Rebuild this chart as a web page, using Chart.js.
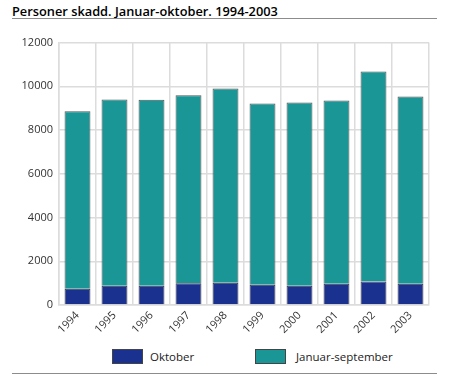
<!DOCTYPE html>
<html>
<head>
<meta charset="utf-8">
<script src="https://cdn.jsdelivr.net/npm/chart.js@4/dist/chart.umd.min.js"></script>
<style>
  body { margin: 0; background: #fff; font-family: "Open Sans", "DejaVu Sans", sans-serif; }
  #wrap { position: relative; width: 449px; height: 376px; }
  .title { position: absolute; left: 12px; top: 2px; font-size: 12.8px; font-weight: 600; color: #000; }
  .rule { position: absolute; left: 12px; width: 425px; height: 1px; background: #8c8c8c; }
  #chartbox { position: absolute; left: 0; top: 30px; width: 449px; height: 312px; }
  .legend { position: absolute; top: 349px; font-size: 11.5px; color: #222; }
  .legend span.box { position: absolute; top: 0; width: 31px; height: 15px; border: 1px solid #444; box-sizing: border-box; }
  .legend span.lbl { position: absolute; top: 0; white-space: nowrap; line-height: 15px; }
</style>
</head>
<body>
<div id="wrap">
  <div class="title">Personer skadd. Januar-oktober. 1994-2003</div>
  <div class="rule" style="top:18px"></div>
  <div id="chartbox"><canvas id="chart"></canvas></div>
  <div class="legend" style="left:112px">
    <span class="box" style="left:0;background:#1a318f"></span>
    <span class="lbl" style="left:38px">Oktober</span>
  </div>
  <div class="legend" style="left:255px">
    <span class="box" style="left:0;background:#1a9696"></span>
    <span class="lbl" style="left:41px">Januar-september</span>
  </div>
  <div class="rule" style="top:373px"></div>
</div>
<script>
const years = ["1994", "1995", "1996", "1997", "1998", "1999", "2000", "2001", "2002", "2003"];
const oktober = [740, 880, 880, 990, 1020, 930, 880, 970, 1080, 970];
const januarSeptember = [8120, 8520, 8510, 8600, 8880, 8290, 8380, 8380, 9600, 8570];
const yTicks = [0, 2000, 4000, 6000, 8000, 10000, 12000];

const tickFont = { family: '"Open Sans", "DejaVu Sans", sans-serif', size: 11 };

new Chart(document.getElementById("chart").getContext("2d"), {
  type: "bar",
  data: {
    labels: years,
    datasets: [
      {
        label: "Oktober",
        data: oktober,
        backgroundColor: "#1a318f",
        borderColor: "#3a3a4a",
        borderWidth: 1,
        categoryPercentage: 1,
        barPercentage: 0.7,
      },
      {
        label: "Januar-september",
        data: januarSeptember,
        backgroundColor: "#1a9696",
        borderColor: "#555",
        borderWidth: 1,
        categoryPercentage: 1,
        barPercentage: 0.7,
      },
    ],
  },
  options: {
    responsive: true,
    maintainAspectRatio: false,
    animation: false,
    layout: { padding: { top: 12, right: 20, left: 0, bottom: 0 } },
    plugins: {
      legend: { display: false },
      tooltip: { enabled: false },
    },
    scales: {
      x: {
        stacked: true,
        offset: true,
        grid: { color: "#dcdcdc", lineWidth: 1.5, drawTicks: false, offset: true },
        border: { color: "#dcdcdc", width: 1.5 },
        ticks: {
          color: "#333",
          font: tickFont,
          maxRotation: 45,
          minRotation: 45,
          padding: 4,
        },
        afterFit: (scale) => { scale.height = 37; },
      },
      y: {
        stacked: true,
        min: 0,
        max: 12000,
        afterBuildTicks: (scale) => { scale.ticks = yTicks.map((v) => ({ value: v })); },
        grid: { color: "#dcdcdc", lineWidth: 1.5, drawTicks: false },
        border: { color: "#dcdcdc", width: 1.5 },
        ticks: { color: "#333", font: tickFont, padding: 6, callback: (v) => String(v) },
        afterFit: (scale) => { scale.width = 59; },
      },
    },
  },
});
</script>
</body>
</html>
